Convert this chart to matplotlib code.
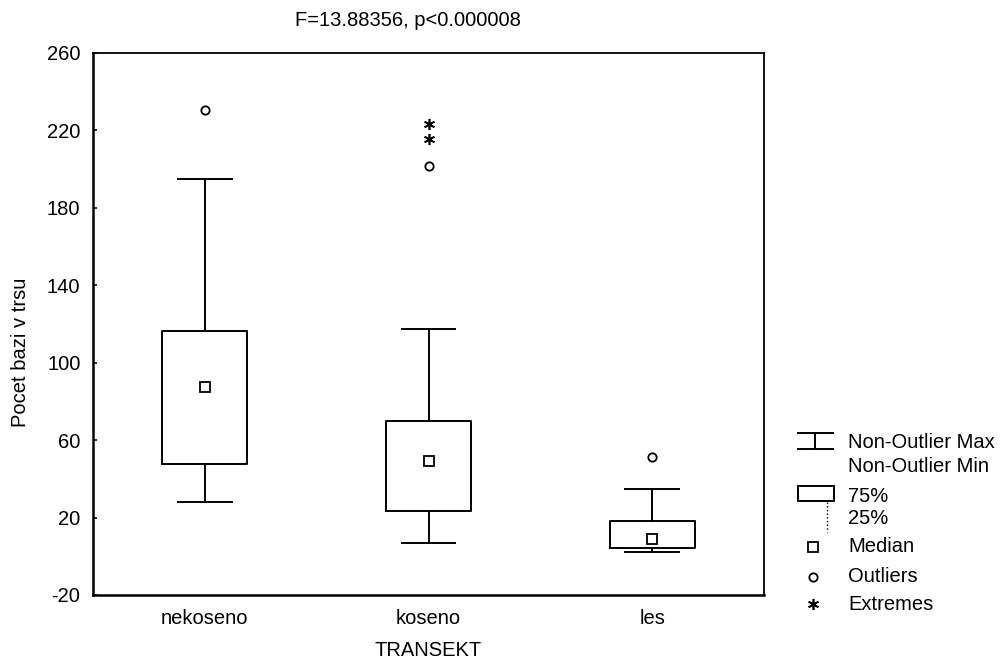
import matplotlib
matplotlib.use('Agg')
import matplotlib.pyplot as plt

plt.rcParams['font.family'] = ['Liberation Sans', 'DejaVu Sans']

categories = ['nekoseno', 'koseno', 'les']
q1 = [47.7, 23.4, 4.2]
medians = [87.3, 49.4, 9.1]
q3 = [116.4, 70.1, 18.1]
whisker_min = [28.3, 7.1, 2.1]
whisker_max = [194.9, 117.4, 34.8]
outliers = [[230.6], [201.6], [51.5]]
extremes = [[], [223.5, 215.5], []]
y_ticks = [-20, 20, 60, 100, 140, 180, 220, 260]

title_text = 'F=13.88356, p<0.000008'
y_label = 'Pocet bazi v trsu'
x_label = 'TRANSEKT'
legend_texts = ['Non-Outlier Max', 'Non-Outlier Min', '75%', '25%',
                'Median', 'Outliers', 'Extremes']

FS = 14.5
W, H = 1007, 665

fig = plt.figure(figsize=(W / 100, H / 100), dpi=100)
ax = fig.add_axes([93 / W, 1 - 595 / H, (764 - 93) / W, (595 - 53) / H])

positions = list(range(len(categories)))
stats = []
for i, name in enumerate(categories):
    stats.append(dict(label=name, q1=q1[i], med=medians[i], q3=q3[i],
                      whislo=whisker_min[i], whishi=whisker_max[i], fliers=[]))

line_kw = dict(color='black', linewidth=1.4)
ax.bxp(stats, positions=positions, widths=0.38, capwidths=0.24,
       showfliers=False, boxprops=line_kw, whiskerprops=line_kw,
       capprops=line_kw, medianprops=dict(linestyle='none'))

ax.plot(positions, medians, 's', color='black', markerfacecolor='white',
        markersize=7, markeredgewidth=1.3)
for i in positions:
    if outliers[i]:
        ax.plot([i] * len(outliers[i]), outliers[i], 'o', color='black',
                markerfacecolor='white', markersize=6, markeredgewidth=1.3)
    if extremes[i]:
        ax.plot([i] * len(extremes[i]), extremes[i], marker=(6, 2, 0),
                linestyle='none', color='black', markersize=8,
                markeredgewidth=1.2)

ax.set_xlim(-0.5, 2.5)
ax.set_ylim(-20, 260)
ax.set_yticks(y_ticks)
ax.set_yticklabels([str(v) for v in y_ticks], fontsize=FS)
ax.set_xticks(positions)
ax.set_xticklabels(categories, fontsize=FS)
ax.tick_params(axis='y', direction='in', length=3, width=1.2, pad=9)
ax.tick_params(axis='x', length=0, pad=10)
for side in ['left', 'bottom']:
    ax.spines[side].set_linewidth(1.8)
for side in ['top', 'right']:
    ax.spines[side].set_linewidth(1.3)

fig.text(408 / W, 1 - 20 / H, title_text, fontsize=FS, ha='center', va='center')
fig.text(428 / W, 1 - 650 / H, x_label, fontsize=FS, ha='center', va='center')
fig.text(21 / W, 1 - 352 / H, y_label, fontsize=FS, ha='center', va='center',
         rotation=90)

# legend drawn by hand in pixel coordinates
lg = fig.add_axes([0, 0, 1, 1])
lg.set_xlim(0, W)
lg.set_ylim(H, 0)
lg.axis('off')
lg.plot([798, 833], [433, 433], **line_kw)
lg.plot([798, 833], [449, 449], **line_kw)
lg.plot([815, 815], [433, 449], **line_kw)
lg.add_patch(plt.Rectangle((798, 486), 36, 15, fill=False, edgecolor='black',
                           linewidth=1.4))
lg.plot([827, 827], [502, 532], color='black', linewidth=1, linestyle=':')
lg.plot([813], [547], 's', color='black', markerfacecolor='white',
        markersize=7, markeredgewidth=1.3)
lg.plot([813], [577], 'o', color='black', markerfacecolor='white',
        markersize=6, markeredgewidth=1.3)
lg.plot([813], [604], marker=(6, 2, 0), color='black', markersize=8,
        markeredgewidth=1.2)
legend_y = [442, 466, 497, 518, 547, 577, 604]
for txt, y in zip(legend_texts, legend_y):
    lg.text(848, y, txt, fontsize=FS, ha='left', va='center')

fig.savefig('out.png', dpi=100)
